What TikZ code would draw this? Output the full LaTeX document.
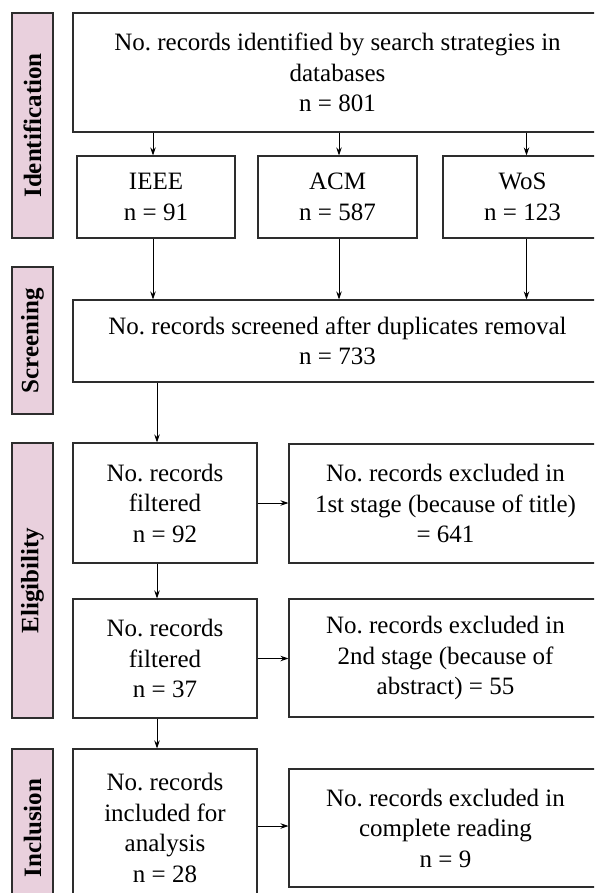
\documentclass[tikz,border=0pt]{standalone}
\usepackage{fontspec}
\setmainfont{Liberation Serif}
\usetikzlibrary{arrows.meta,calc}
\definecolor{labpink}{RGB}{233,208,221}
\definecolor{edgegray}{RGB}{45,45,45}
\newcommand\mybox[6]{\node[boxst, minimum width={#4-#2}, minimum height={#5-#3}] (#1) at ({(#2+#4)/2},{(#3+#5)/2}) {#6};}
\newcommand\mylab[6]{\node[labst, minimum width={#4-#2}, minimum height={#5-#3}] (#1) at ({(#2+#4)/2},{(#3+#5)/2}) {\rotatebox{90}{#6}};}
\frenchspacing
\begin{document}
\begin{tikzpicture}[x=1pt,y=-1pt,
 boxst/.style={draw=edgegray, line width=1.1pt, fill=white, align=center, inner sep=0pt, font=\fontsize{25}{30.5}\selectfont},
 labst/.style={draw=edgegray, line width=1.1pt, fill=labpink, inner sep=0pt, font=\fontsize{25}{28}\selectfont\bfseries},
 arr/.style={draw=black, line width=0.9pt, -{Stealth[length=8pt,width=5.5pt]}}]
\useasboundingbox (0,0) rectangle (594,893);
\clip (0,0) rectangle (594,893);
% phase labels
\mylab{lid}{12}{13}{53}{238}{Identification}
\mylab{lsc}{12}{267}{53}{414}{Screening}
\mylab{lel}{12}{443}{53}{718}{Eligibility}
\mylab{lin}{12}{749}{53}{907}{Inclusion}
% boxes
\mybox{top}{73}{13}{602}{132}{No. records identified by search strategies in\\databases\\n = 801}
\mybox{ieee}{77}{156}{235}{238}{IEEE\\n = 91}
\mybox{acm}{258}{156}{417}{238}{ACM\\n = 587}
\mybox{wos}{443}{156}{602}{238}{WoS\\n = 123}
\mybox{scr}{73}{300}{602}{382}{No. records screened after duplicates removal\\n = 733}
\mybox{fa}{73}{443}{257}{563}{No. records\\filtered\\n = 92}
\mybox{exa}{289}{444}{602}{563}{No. records excluded in\\1st stage (because of title)\\= 641}
\mybox{fb}{73}{599}{257}{718}{No. records\\filtered\\n = 37}
\mybox{exb}{289}{599}{602}{717}{No. records excluded in\\2nd stage (because of\\abstract) = 55}
\mybox{inc}{73}{749}{257}{907}{No. records\\included for\\analysis\\n = 28}
\mybox{exc}{289}{769}{602}{887}{No. records excluded in\\complete reading\\n = 9}
% arrows
\draw[arr] (top.south -| ieee.north) ++(-3,0) coordinate (a1) -- (a1 |- ieee.north);
\draw[arr] (top.south -| acm.north) ++(1.5,0) coordinate (a2) -- (a2 |- acm.north);
\draw[arr] (top.south -| wos.north) ++(4,0) coordinate (a3) -- (a3 |- wos.north);
\draw[arr] ($(ieee.south)+(-3,0)$) coordinate (b1) -- (b1 |- scr.north);
\draw[arr] ($(acm.south)+(1.5,0)$) coordinate (b2) -- (b2 |- scr.north);
\draw[arr] ($(wos.south)+(4,0)$) coordinate (b3) -- (b3 |- scr.north);
\draw[arr] ($(fa.north)+(-8,0)$) coordinate (c0) ++(0,0) (scr.south -| c0) -- (c0);
\draw[arr] (fa.east) -- (fa.east -| exa.west);
\draw[arr] ($(fa.south)+(-8,0)$) -- ($(fb.north)+(-8,0)$);
\draw[arr] (fb.east) -- (fb.east -| exb.west);
\draw[arr] ($(fb.south)+(-8,0)$) -- ($(inc.north)+(-8,0)$);
\draw[arr] ($(inc.east)+(0,-2)$) coordinate (d1) -- (d1 -| exc.west);
\end{tikzpicture}
\end{document}
